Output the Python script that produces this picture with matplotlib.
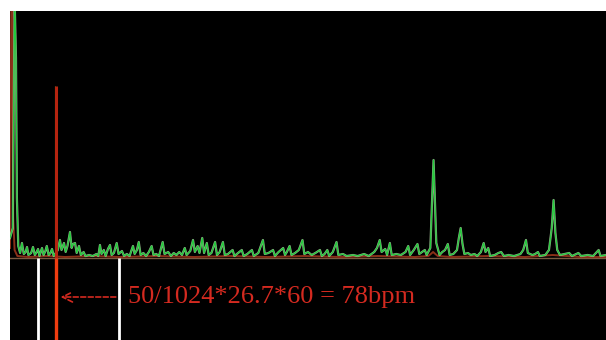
import matplotlib
matplotlib.use("Agg")
import matplotlib.pyplot as plt

# FFT magnitude spectrum (bin index, amplitude in arbitrary units)
green_bin = [0, 3, 5, 6.5, 7.5, 9, 11, 13, 15, 17, 18.5, 20, 23, 25, 27, 29, 30.5, 32,
             34.8, 36.5, 38.5, 40, 42, 44, 45.7, 47.5, 49, 52, 54.3, 56, 58.7, 60.5, 62.5,
             65.2, 67, 68.5, 70.7, 72.5, 75, 77, 80, 82, 86, 90, 94, 96, 97.8, 99.5, 102,
             104, 106.5, 108.7, 110.5, 113, 116, 118, 121.7, 124, 127, 130, 133.7, 135.5,
             138, 140, 142, 145, 148, 151, 154, 156, 159, 162, 166, 168, 172, 175, 178,
             181, 184, 187, 190, 192, 196, 199, 201, 204, 206, 209, 211, 214, 216, 219,
             223, 225, 228, 231.5, 233.5, 237, 242, 244, 248, 252, 254, 258, 263, 265,
             270, 275, 277, 281, 286, 288, 292, 297, 299, 301, 304, 306, 310, 314, 318,
             320, 324, 328, 332, 337, 339, 342, 345, 347, 351, 355, 357, 362, 366, 373,
             378, 385, 390, 396, 399, 402, 404, 408, 410, 413, 415, 420, 425, 430, 433,
             435, 439, 443, 445, 448, 451, 453, 457, 459, 460.5, 462, 463.5, 465, 467,
             470, 473, 476, 478, 482, 486, 488, 490, 492, 494, 498, 501, 505, 508, 512,
             515, 517, 520, 522, 527, 531, 534, 537, 542, 548, 555, 558, 561, 563, 568,
             571, 574, 576, 582, 586, 589, 591, 593, 595, 598, 603, 608, 611, 618, 621,
             628, 634, 640, 642, 648]
green_amp = [20, 30, 260, 200, 60, 12, 5, 15, 4, 6, 11, 3, 5, 11, 3, 6, 9, 2,
             10, 3, 7, 12, 3, 5, 9, 2, 4, 8, 18, 8, 15, 6, 12,
             26, 10, 14, 15, 5, 12, 3, 6, 2, 3, 2, 4, 2, 13, 4, 8,
             2, 9, 13, 3, 5, 15, 4, 7, 2, 4, 2, 12, 4,
             8, 16, 3, 5, 2, 6, 12, 3, 4, 2, 16, 4, 6, 2, 5,
             3, 6, 3, 10, 3, 7, 18, 6, 12, 5, 20, 5, 15, 3, 5,
             16, 3, 6, 16, 3, 4, 8, 2, 5, 8, 2, 4, 8, 2,
             5, 18, 4, 5, 8, 2, 6, 10, 3, 6, 12, 3, 5, 8, 18,
             4, 6, 3, 5, 8, 2, 4, 8, 2, 6, 16, 3, 4, 2, 3,
             2, 4, 2, 6, 10, 18, 6, 9, 3, 15, 3, 4, 3, 6, 12,
             3, 8, 14, 4, 6, 8, 3, 10, 60, 98, 55, 15, 10, 3,
             6, 8, 14, 3, 4, 8, 20, 30, 14, 4, 5, 3, 4, 2, 6,
             15, 6, 10, 2, 3, 5, 6, 2, 3, 2, 4, 8, 18, 5, 3,
             4, 6, 2, 3, 8, 30, 58, 25, 8, 3, 4, 5, 2, 5, 2,
             3, 2, 8, 2, 3]

# Second (red) channel, mostly flat along the baseline
red_bin = [0, 1.5, 2.5, 3.5, 5, 8, 20, 40, 60, 90, 120, 160, 200, 240, 280, 320,
           360, 400, 440, 455, 460, 465, 480, 520, 560, 590, 620, 648]
red_amp = [10, 260, 247, 40, 8, 2, 1, 2, 1, 2, 1, 2, 1, 2, 1, 2,
           1, 2, 1, 2, 6, 2, 1, 2, 1, 3, 1, 1]

marker_bin = 50          # detected heart-rate bin
marker_amp = 172         # its spectral magnitude
band_bins = [30, 118]    # search band limits
label = "50/1024*26.7*60 = 78bpm"

fig = plt.figure(figsize=(6.06, 3.40), dpi=100, facecolor="white")
ax = fig.add_axes([10 / 606, 0, 596 / 606, 329 / 340])
ax.set_facecolor("black")
ax.set_xlim(0, 648)
ax.set_ylim(-82, 247)
ax.axis("off")
ax.add_patch(plt.Rectangle((0, -82), 648, 329, color="black", zorder=0))

# spectrum traces
ax.plot(red_bin, red_amp, color="#8a3018", lw=1.4, zorder=2)
ax.plot(green_bin, green_amp, color="#b8cca8", lw=1.6, zorder=3, alpha=0.8)
ax.plot(green_bin, green_amp, color="#22cc3c", lw=0.9, zorder=4)
ax.plot([0, 648], [0, 0], color="#7a5a40", lw=1.0, zorder=1)

# search band limits
ax.vlines(band_bins, -82, 0, colors="white", lw=2.0, zorder=5)

# detected peak marker
ax.vlines(marker_bin - 0.9, 0, marker_amp, colors="#2a9a30", lw=0.8, zorder=5)
ax.vlines(marker_bin, 0, marker_amp, colors="#b42410", lw=2.2, zorder=6)
ax.vlines(marker_bin, -82, 0, colors="#f03c10", lw=2.4, zorder=6)

# annotation arrow and formula
ax.annotate("", xy=(marker_bin + 2, -39), xytext=(band_bins[1], -39),
            arrowprops=dict(arrowstyle="->", color="#d42a20", lw=1.2,
                            linestyle=(0, (3, 1.5)), mutation_scale=18),
            zorder=7)
ax.text(128.5, -39, label, color="#d42a20", fontsize=19,
        family="Liberation Serif", va="center", ha="left", zorder=7)

fig.savefig("out.png", dpi=100, facecolor="white")
